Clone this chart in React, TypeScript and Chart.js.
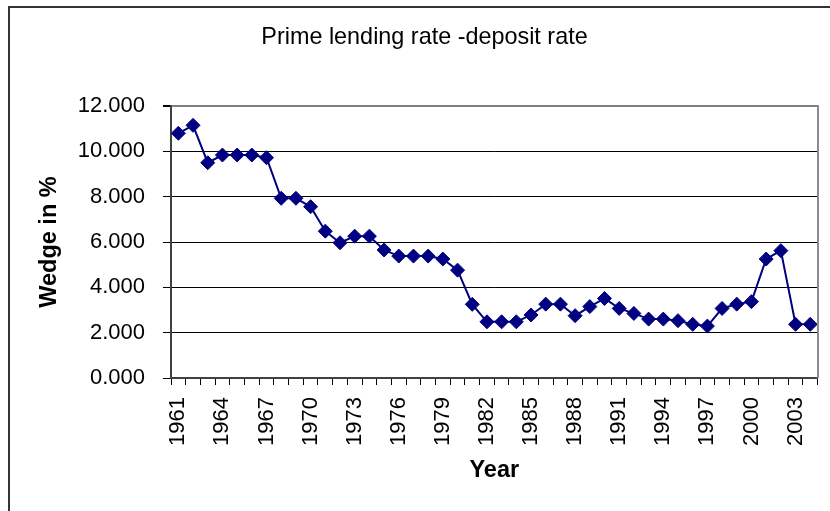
import React, { useEffect, useRef } from "react";
import { Chart, registerables } from "chart.js";

Chart.register(...registerables);

const years = [
  "1961", "1962", "1963", "1964", "1965", "1966", "1967", "1968", "1969", "1970",
  "1971", "1972", "1973", "1974", "1975", "1976", "1977", "1978", "1979", "1980",
  "1981", "1982", "1983", "1984", "1985", "1986", "1987", "1988", "1989", "1990",
  "1991", "1992", "1993", "1994", "1995", "1996", "1997", "1998", "1999", "2000",
  "2001", "2002", "2003", "2004",
];

const wedge = [
  10.8, 11.15, 9.5, 9.84, 9.84, 9.84, 9.72, 7.93, 7.93, 7.56,
  6.48, 5.97, 6.26, 6.26, 5.65, 5.38, 5.38, 5.38, 5.25, 4.76,
  3.25, 2.48, 2.48, 2.48, 2.78, 3.26, 3.26, 2.75, 3.15, 3.51,
  3.07, 2.85, 2.6, 2.6, 2.53, 2.37, 2.29, 3.07, 3.26, 3.37,
  5.25, 5.62, 2.37, 2.37,
];

const shownYearLabels = [
  "1961", "1964", "1967", "1970", "1973", "1976", "1979", "1982",
  "1985", "1988", "1991", "1994", "1997", "2000", "2003",
];

const yTicks = [0, 2, 4, 6, 8, 10, 12];

const titleText = "Prime lending rate -deposit rate";
const yTitle = "Wedge in %";
const xTitle = "Year";

const FONT = "'Liberation Sans', Arial, Helvetica, sans-serif";

const plotFramePlugin = {
  id: "plotFrame",
  afterDraw(chart: any) {
    const { ctx, chartArea } = chart;
    const x = Math.round(chartArea.right);
    ctx.save();
    ctx.strokeStyle = "#8c8c8c";
    ctx.lineWidth = 2;
    ctx.beginPath();
    ctx.moveTo(x, chartArea.top - 1);
    ctx.lineTo(x, chartArea.bottom);
    ctx.stroke();
    ctx.restore();
  },
};

export default function App() {
  const ref = useRef<HTMLCanvasElement | null>(null);

  useEffect(() => {
    const canvas = ref.current;
    if (!canvas) return;
    const chart = new Chart(canvas, {
      type: "line",
      data: {
        labels: years,
        datasets: [
          {
            data: wedge,
            borderColor: "#000080",
            backgroundColor: "#000080",
            borderWidth: 2,
            pointStyle: "rectRot",
            pointRadius: 7,
            pointBorderWidth: 1,
            pointBackgroundColor: "#000080",
            pointBorderColor: "#000080",
            tension: 0,
            fill: false,
            clip: false,
          },
        ],
      },
      plugins: [plotFramePlugin],
      options: {
        responsive: false,
        animation: false,
        devicePixelRatio: 1,
        layout: { padding: { left: 0, right: 0, top: 0, bottom: 0 } },
        plugins: {
          legend: { display: false },
          tooltip: { enabled: false },
          title: {
            display: true,
            text: titleText,
            color: "#000",
            font: { family: FONT, size: 23.4, weight: "normal" },
            padding: { top: 24, bottom: 54 },
          },
        },
        scales: {
          x: {
            type: "category",
            offset: true,
            grid: {
              display: true,
              offset: true,
              drawOnChartArea: false,
              drawTicks: true,
              tickLength: 7,
              tickColor: "#000",
              lineWidth: 1,
            },
            border: { display: true, color: "#404040", width: 2 },
            ticks: {
              autoSkip: false,
              minRotation: 90,
              maxRotation: 90,
              padding: 12,
              color: "#000",
              font: { family: FONT, size: 22 },
              callback: function (this: any, _v: any, i: number) {
                const lab = years[i];
                return shownYearLabels.includes(lab) ? lab : "";
              },
            },
            title: {
              display: true,
              text: xTitle,
              color: "#000",
              font: { family: FONT, size: 23.5, weight: "bold" },
              padding: { top: 0, bottom: 26 },
            },
            afterFit: (s: any) => {
              s.height = 133;
            },
          },
          y: {
            position: "left",
            min: 0,
            max: 12,
            afterBuildTicks: (s: any) => {
              s.ticks = yTicks.map((v) => ({ value: v }));
            },
            grid: {
              display: true,
              drawTicks: true,
              tickLength: 8,
              tickColor: "#000",
              color: (ctx: any) =>
                ctx.tick && ctx.tick.value === 12 ? "#808080" : "#000",
              lineWidth: (ctx: any) =>
                ctx.tick && ctx.tick.value === 12 ? 2 : 1,
            },
            border: { display: true, color: "#404040", width: 2 },
            ticks: {
              padding: 18,
              color: "#000",
              font: { family: FONT, size: 22 },
              callback: (v: any) => Number(v).toFixed(3),
            },
            title: {
              display: true,
              text: yTitle,
              color: "#000",
              font: { family: FONT, size: 23.5, weight: "bold" },
              padding: { top: 35, bottom: 0 },
            },
            afterFit: (s: any) => {
              s.width = 171;
            },
          },
          yRight: {
            position: "right",
            min: 0,
            max: 12,
            grid: { display: false, drawOnChartArea: false, drawTicks: false },
            border: { display: false },
            ticks: { display: false },
            afterFit: (s: any) => {
              s.width = 31;
            },
          },
        },
      },
    } as any);
    return () => chart.destroy();
  }, []);

  return (
    <div
      style={{
        position: "absolute",
        left: 0,
        top: 0,
        width: 830,
        height: 511,
        overflow: "hidden",
        background: "#fff",
      }}
    >
      <div
        style={{
          position: "absolute",
          left: 8,
          top: 6,
          width: 900,
          height: 600,
          borderLeft: "2px solid #333",
          borderTop: "2px solid #333",
          boxSizing: "border-box",
        }}
      />
      <canvas
        ref={ref}
        width={849}
        height={511}
        style={{ position: "absolute", left: 0, top: 0, width: 849, height: 511, display: "block" }}
      />
    </div>
  );
}
